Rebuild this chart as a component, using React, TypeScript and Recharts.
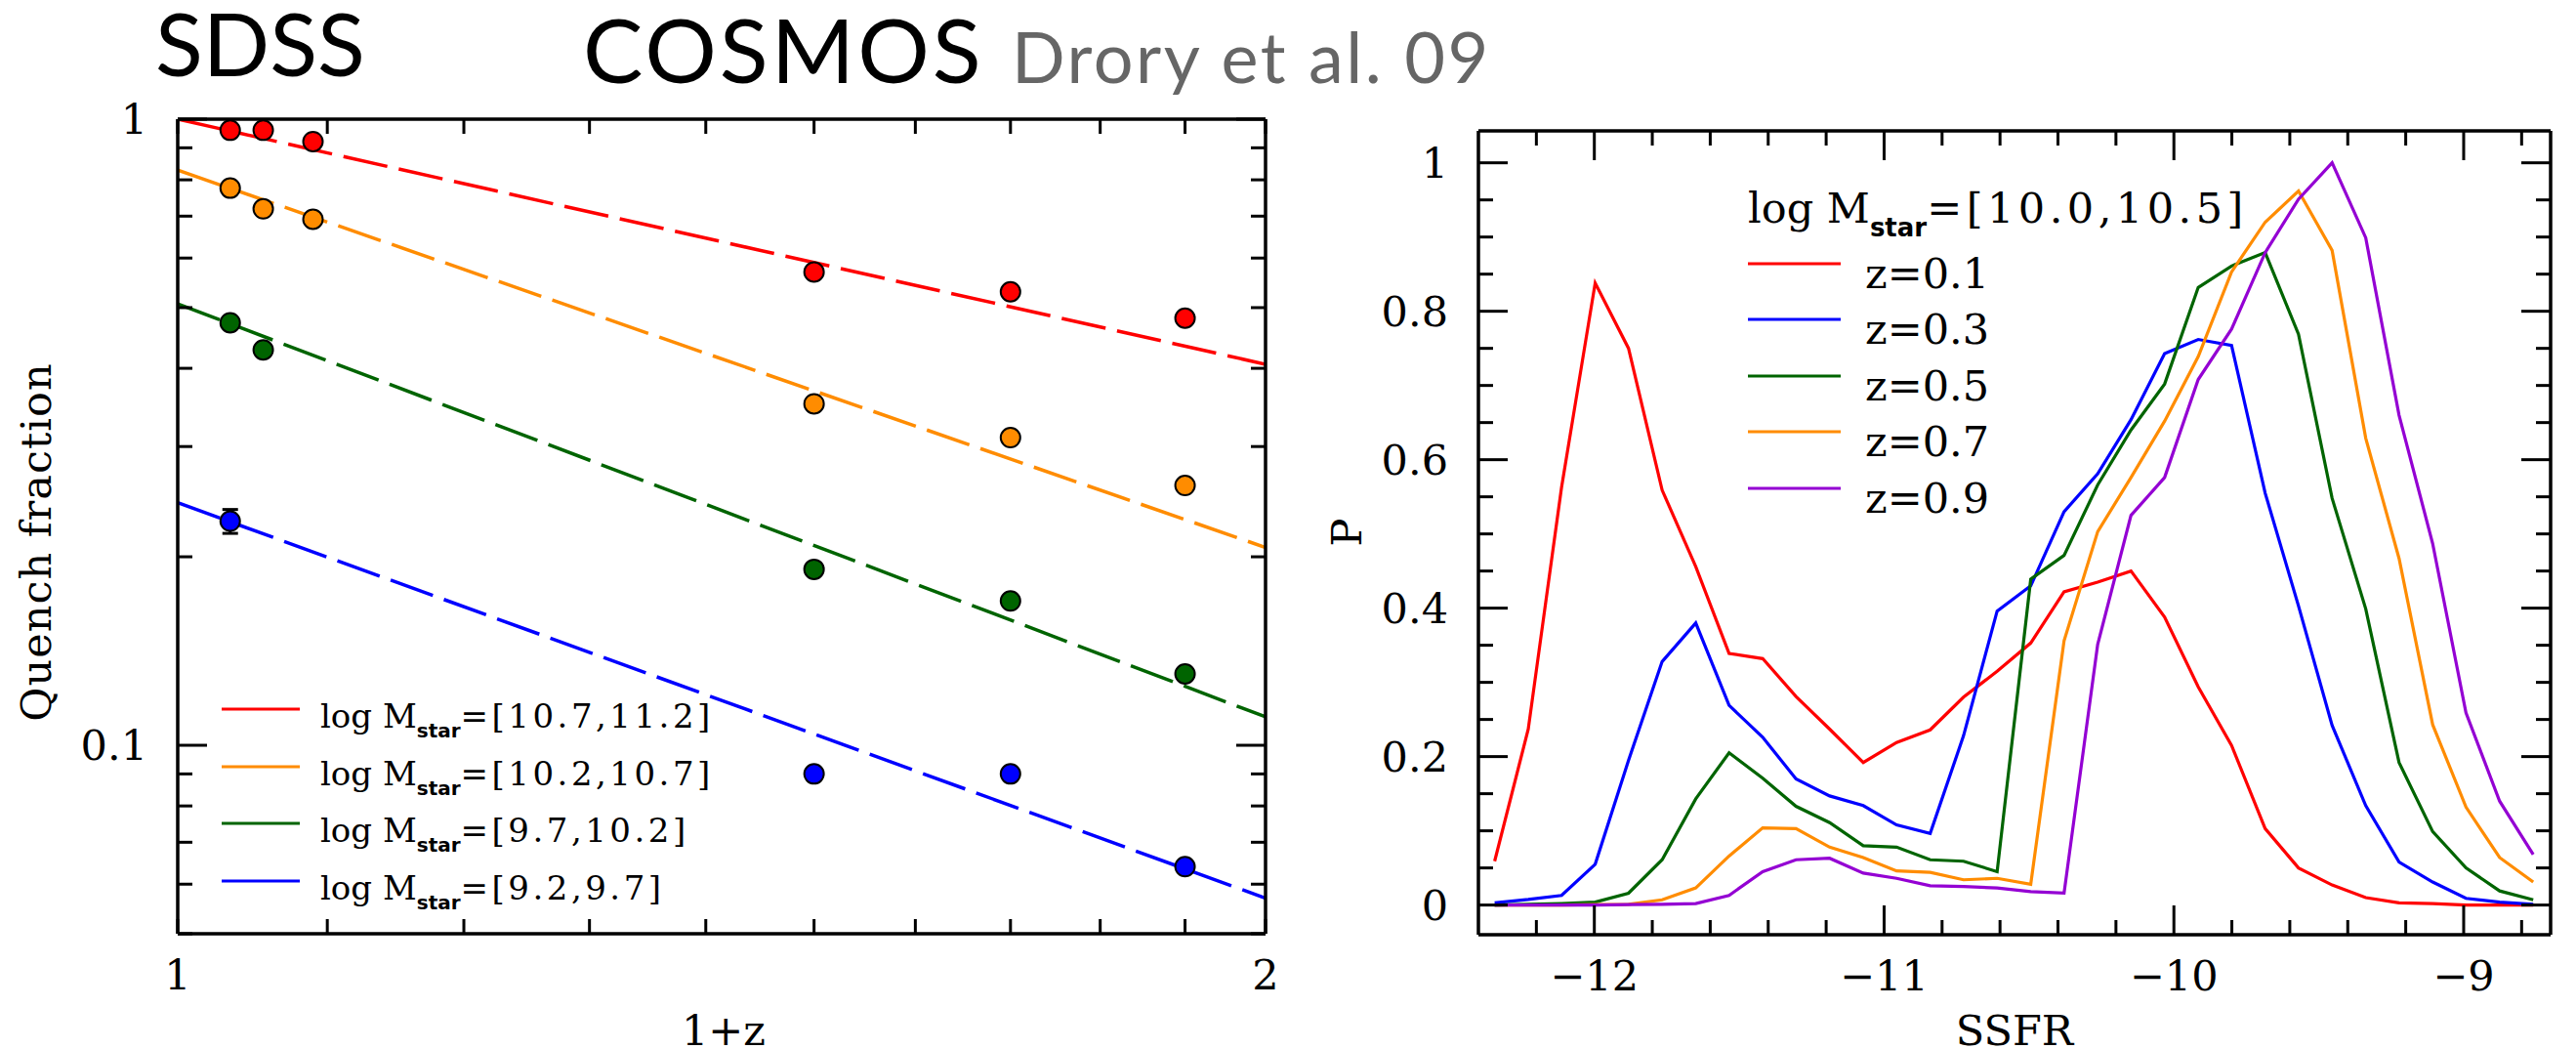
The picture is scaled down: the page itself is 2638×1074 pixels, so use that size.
import React from "react";
import { ComposedChart, LineChart, Line, Scatter, XAxis, YAxis, ErrorBar } from "recharts";

const SERIF = "'DejaVu Serif', serif";
const SUB = "'DejaVu Sans', sans-serif";
const TITLE = "Lato, 'Open Sans', sans-serif";

// ---- left panel: quenched fraction vs 1+z ----
const massLabels = ["[10.7,11.2]", "[10.2,10.7]", "[9.7,10.2]", "[9.2,9.7]"];
const massColors = ["#ff0000", "#ff8c00", "#006400", "#0000ff"];

const redX = [1.034, 1.056, 1.09, 1.5, 1.7, 1.9];
const redY = [0.96, 0.96, 0.921, 0.57, 0.53, 0.481];
const orangeX = [1.034, 1.056, 1.09, 1.5, 1.7, 1.9];
const orangeY = [0.776, 0.719, 0.692, 0.351, 0.31, 0.26];
const greenX = [1.034, 1.056, 1.5, 1.7, 1.9];
const greenY = [0.473, 0.428, 0.191, 0.17, 0.13];
const blueX = [1.034, 1.5, 1.7, 1.9];
const blueY = [0.228, 0.09, 0.09, 0.064];
const blueErr = [0.01, 0, 0, 0];

// power-law fits, ends at 1+z = 1 and 2
const fitX = [1, 2];
const redFit = [1.0, 0.406];
const orangeFit = [0.829, 0.207];
const greenFit = [0.507, 0.111];
const blueFit = [0.244, 0.057];

const zTicks = [1, 1.1, 1.2, 1.3, 1.4, 1.5, 1.6, 1.7, 1.8, 1.9, 2];
const zLabelled = [1, 2];
const fracTicks = [0.05, 0.06, 0.07, 0.08, 0.09, 0.1, 0.2, 0.3, 0.4, 0.5, 0.6, 0.7, 0.8, 0.9, 1];
const fracMajor = [0.1, 1];

// ---- right panel: SSFR distributions, log Mstar = [10.0,10.5] ----
const zNames = ["z=0.1", "z=0.3", "z=0.5", "z=0.7", "z=0.9"];
const zColors = ["#ff0000", "#0000ff", "#006400", "#ff8c00", "#9400d3"];
const ssfr = [
  -12.344, -12.228, -12.113, -11.997, -11.882, -11.766, -11.65, -11.535, -11.419, -11.304, -11.188,
  -11.072, -10.957, -10.841, -10.726, -10.61, -10.494, -10.379, -10.263, -10.148, -10.032, -9.916,
  -9.801, -9.685, -9.57, -9.454, -9.338, -9.223, -9.107, -8.992, -8.876, -8.76,
];
const pZ01 = [
  0.059, 0.237, 0.563, 0.838, 0.75, 0.559, 0.456, 0.339, 0.332, 0.281, 0.237, 0.192, 0.219, 0.236,
  0.28, 0.315, 0.353, 0.422, 0.435, 0.45, 0.388, 0.294, 0.215, 0.103, 0.05, 0.027, 0.01, 0.003,
  0.002, 0, 0, 0,
];
const pZ03 = [
  0.003, 0.0075, 0.013, 0.055, 0.195, 0.328, 0.38, 0.269, 0.226, 0.17, 0.147, 0.134, 0.108, 0.0965,
  0.228, 0.396, 0.43, 0.53, 0.581, 0.654, 0.743, 0.762, 0.754, 0.555, 0.403, 0.242, 0.134, 0.058,
  0.031, 0.009, 0.004, 0.001,
];
const pZ05 = [
  0, 0.001, 0.002, 0.004, 0.016, 0.061, 0.143, 0.205, 0.171, 0.133, 0.111, 0.08, 0.078, 0.061,
  0.059, 0.045, 0.439, 0.471, 0.566, 0.64, 0.702, 0.832, 0.861, 0.879, 0.769, 0.548, 0.399, 0.192,
  0.099, 0.05, 0.019, 0.007,
];
const pZ07 = [
  0, 0, 0, 0.0005, 0.001, 0.007, 0.023, 0.066, 0.104, 0.103, 0.078, 0.064, 0.046, 0.044, 0.034,
  0.036, 0.028, 0.356, 0.503, 0.576, 0.652, 0.739, 0.853, 0.92, 0.962, 0.882, 0.629, 0.467, 0.243,
  0.132, 0.064, 0.031,
];
const pZ09 = [
  0, 0, 0, 0, 0.0005, 0.001, 0.002, 0.013, 0.045, 0.061, 0.063, 0.043, 0.036, 0.026, 0.025, 0.023,
  0.018, 0.016, 0.351, 0.525, 0.576, 0.708, 0.776, 0.879, 0.951, 1.0, 0.899, 0.66, 0.487, 0.259,
  0.14, 0.068,
];
const ssfrTicks = [
  -12.2, -12, -11.8, -11.6, -11.4, -11.2, -11, -10.8, -10.6, -10.4, -10.2, -10, -9.8, -9.6, -9.4,
  -9.2, -9, -8.8,
];
const ssfrMajor = [-12, -11, -10, -9];
const pTicks = [
  0, 0.05, 0.1, 0.15, 0.2, 0.25, 0.3, 0.35, 0.4, 0.45, 0.5, 0.55, 0.6, 0.65, 0.7, 0.75, 0.8, 0.85,
  0.9, 0.95, 1,
];
const pMajor = [0, 0.2, 0.4, 0.6, 0.8, 1];

const pts = (xs: number[], ys: number[], err?: number[]) =>
  xs.map((x, i) => ({ x, y: ys[i], err: err ? err[i] : 0 }));

const pRows = ssfr.map((s, i) => ({
  ssfr: s,
  z01: pZ01[i],
  z03: pZ03[i],
  z05: pZ05[i],
  z07: pZ07[i],
  z09: pZ09[i],
}));
const pKeys = ["z01", "z03", "z05", "z07", "z09"];

const frame = { stroke: "#000", strokeWidth: 3.5 };

// draws tick marks pointing into the box, labels only on major ticks
function boxTick(side: string, major: number[], majorLen: number, minorLen: number, fmt?: (v: number) => string) {
  return (props: any) => {
    const { x, y, payload } = props;
    const v = payload.value as number;
    const isMajor = major.some((m) => Math.abs(m - v) < 1e-6);
    const len = isMajor ? majorLen : minorLen;
    let x2 = x;
    let y2 = y;
    if (side === "left") x2 = x + len;
    if (side === "right") x2 = x - len;
    if (side === "bottom") y2 = y - len;
    if (side === "top") y2 = y + len;
    const label = fmt && isMajor ? fmt(v) : null;
    return (
      <g>
        <line x1={x} y1={y} x2={x2} y2={y2} stroke="#000" strokeWidth={3} />
        {label !== null && side === "left" && (
          <text x={x - 31} y={y + 15} textAnchor="end" fontFamily={SERIF} fontSize={43} fill="#000">
            {label}
          </text>
        )}
        {label !== null && side === "bottom" && (
          <text x={x} y={y + 57} textAnchor="middle" fontFamily={SERIF} fontSize={43} fill="#000">
            {label}
          </text>
        )}
      </g>
    );
  };
}

const dot = (color: string) => (props: any) => (
  <circle cx={props.cx} cy={props.cy} r={10} fill={color} stroke="#000" strokeWidth={2} />
);

function QuenchPanel() {
  const series = [
    { d: pts(redX, redY), fit: redFit },
    { d: pts(orangeX, orangeY), fit: orangeFit },
    { d: pts(greenX, greenY), fit: greenFit },
    { d: pts(blueX, blueY, blueErr), fit: blueFit },
  ];
  return (
    <ComposedChart width={1330} height={1074} margin={{ top: 121, right: 33, bottom: 117, left: 181 }}>
      <XAxis xAxisId="b" type="number" dataKey="x" scale="log" domain={[1, 2]} allowDataOverflow
        ticks={zTicks} interval={0} height={1} tickSize={0} tickMargin={0} axisLine={frame} tickLine={false}
        tick={boxTick("bottom", zLabelled, 15, 15, (v) => String(v))} />
      <XAxis xAxisId="t" orientation="top" type="number" dataKey="x" scale="log" domain={[1, 2]} allowDataOverflow
        ticks={zTicks} interval={0} height={1} tickSize={0} tickMargin={0} axisLine={frame} tickLine={false}
        tick={boxTick("top", [], 15, 15)} />
      <YAxis yAxisId="l" type="number" dataKey="y" scale="log" domain={[0.05, 1]} allowDataOverflow
        ticks={fracTicks} interval={0} width={1} tickSize={0} tickMargin={0} axisLine={frame} tickLine={false}
        tick={boxTick("left", fracMajor, 30, 15, (v) => String(v))} />
      <YAxis yAxisId="r" orientation="right" type="number" dataKey="y" scale="log" domain={[0.05, 1]} allowDataOverflow
        ticks={fracTicks} interval={0} width={1} tickSize={0} tickMargin={0} axisLine={frame} tickLine={false}
        tick={boxTick("right", fracMajor, 30, 15)} />
      {series.map((s, i) => (
        <Line key={"fit" + i} xAxisId="b" yAxisId="l" data={fitX.map((x, j) => ({ x, y: s.fit[j] }))}
          dataKey="y" type="linear" stroke={massColors[i]} strokeWidth={3.5} strokeDasharray="46 12"
          dot={false} activeDot={false} isAnimationActive={false} />
      ))}
      {series.map((s, i) => (
        <Scatter key={"pts" + i} xAxisId="b" yAxisId="l" data={s.d} shape={dot(massColors[i])}
          isAnimationActive={false}>
          {i === 3 && (
            <ErrorBar dataKey="err" direction="y" width={8} stroke="#000" strokeWidth={3} isAnimationActive={false} />
          )}
        </Scatter>
      ))}
    </ComposedChart>
  );
}

function SsfrPanel() {
  const pFmt = (v: number) => (v === 0 ? "0" : v === 1 ? "1" : v.toFixed(1));
  const sFmt = (v: number) => "\u2212" + String(Math.abs(v));
  return (
    <LineChart width={1308} height={1074} data={pRows} margin={{ top: 133, right: 25, bottom: 116, left: 183 }}>
      <XAxis xAxisId="b" type="number" dataKey="ssfr" domain={[-12.4, -8.7]} allowDataOverflow
        ticks={ssfrTicks} interval={0} height={1} tickSize={0} tickMargin={0} axisLine={frame} tickLine={false}
        tick={boxTick("bottom", ssfrMajor, 30, 15, sFmt)} />
      <XAxis xAxisId="t" orientation="top" type="number" dataKey="ssfr" domain={[-12.4, -8.7]} allowDataOverflow
        ticks={ssfrTicks} interval={0} height={1} tickSize={0} tickMargin={0} axisLine={frame} tickLine={false}
        tick={boxTick("top", ssfrMajor, 30, 15)} />
      <YAxis yAxisId="l" type="number" domain={[-0.04, 1.043]} allowDataOverflow
        ticks={pTicks} interval={0} width={1} tickSize={0} tickMargin={0} axisLine={frame} tickLine={false}
        tick={boxTick("left", pMajor, 30, 15, pFmt)} />
      <YAxis yAxisId="r" orientation="right" type="number" domain={[-0.04, 1.043]} allowDataOverflow
        ticks={pTicks} interval={0} width={1} tickSize={0} tickMargin={0} axisLine={frame} tickLine={false}
        tick={boxTick("right", pMajor, 30, 15)} />
      {pKeys.map((k, i) => (
        <Line key={k} xAxisId="b" yAxisId="l" dataKey={k} type="linear" stroke={zColors[i]} strokeWidth={3.2}
          dot={false} activeDot={false} isAnimationActive={false} />
      ))}
    </LineChart>
  );
}

function Overlay() {
  const leftLegendY = [726, 785, 843, 902];
  const rightLegendY = [270, 327, 385, 442, 500];
  return (
    <svg width={2638} height={1074} style={{ position: "absolute", left: 0, top: 0, pointerEvents: "none" }}>
      <text x={159} y={78} fontFamily={TITLE} fontSize={90} fill="#000">SDSS</text>
      <text x={597} y={85} fontFamily={TITLE} fontSize={92} letterSpacing={3} fill="#000">COSMOS</text>
      <text x={1036} y={85} fontFamily={TITLE} fontSize={72} letterSpacing={2.5} fill="#666">Drory et al. 09</text>

      <text x={52} y={555} transform="rotate(-90 52 555)" textAnchor="middle" fontFamily={SERIF}
        fontSize={43} letterSpacing={1} fill="#000">Quench fraction</text>
      <text x={741} y={1070} textAnchor="middle" fontFamily={SERIF} fontSize={43} fill="#000">1+z</text>
      <text x={1394} y={545} transform="rotate(-90 1394 545)" textAnchor="middle" fontFamily={SERIF}
        fontSize={43} fill="#000">P</text>
      <text x={2063} y={1070} textAnchor="middle" fontFamily={SERIF} fontSize={43} fill="#000">SSFR</text>

      {massLabels.map((lab, i) => (
        <g key={lab}>
          <line x1={227} x2={307} y1={leftLegendY[i]} y2={leftLegendY[i]} stroke={massColors[i]} strokeWidth={3} />
          <text x={328} y={leftLegendY[i] + 19} fontFamily={SERIF} fontSize={34} fill="#000">
            {"log M"}
            <tspan dy={10} fontFamily={SUB} fontWeight="bold" fontSize={20}>star</tspan>
            <tspan dy={-10} letterSpacing={3.5}>{"=" + lab}</tspan>
          </text>
        </g>
      ))}

      <text x={1790} y={228} fontFamily={SERIF} fontSize={43} fill="#000">
        {"log M"}
        <tspan dy={14} fontFamily={SUB} fontWeight="bold" fontSize={26}>star</tspan>
        <tspan dy={-14} letterSpacing={4.5}>=[10.0,10.5]</tspan>
      </text>
      {zNames.map((n, i) => (
        <g key={n}>
          <line x1={1790} x2={1885} y1={rightLegendY[i]} y2={rightLegendY[i]} stroke={zColors[i]} strokeWidth={3} />
          <text x={1910} y={rightLegendY[i] + 25} fontFamily={SERIF} fontSize={43} fill="#000">{n}</text>
        </g>
      ))}
    </svg>
  );
}

export default function App() {
  return (
    <div style={{ position: "absolute", left: 0, top: 0, width: 2638, height: 1074, background: "#fff", overflow: "hidden" }}>
      <div style={{ position: "absolute", left: 0, top: 0 }}>
        <QuenchPanel />
      </div>
      <div style={{ position: "absolute", left: 1330, top: 0 }}>
        <SsfrPanel />
      </div>
      <Overlay />
    </div>
  );
}
